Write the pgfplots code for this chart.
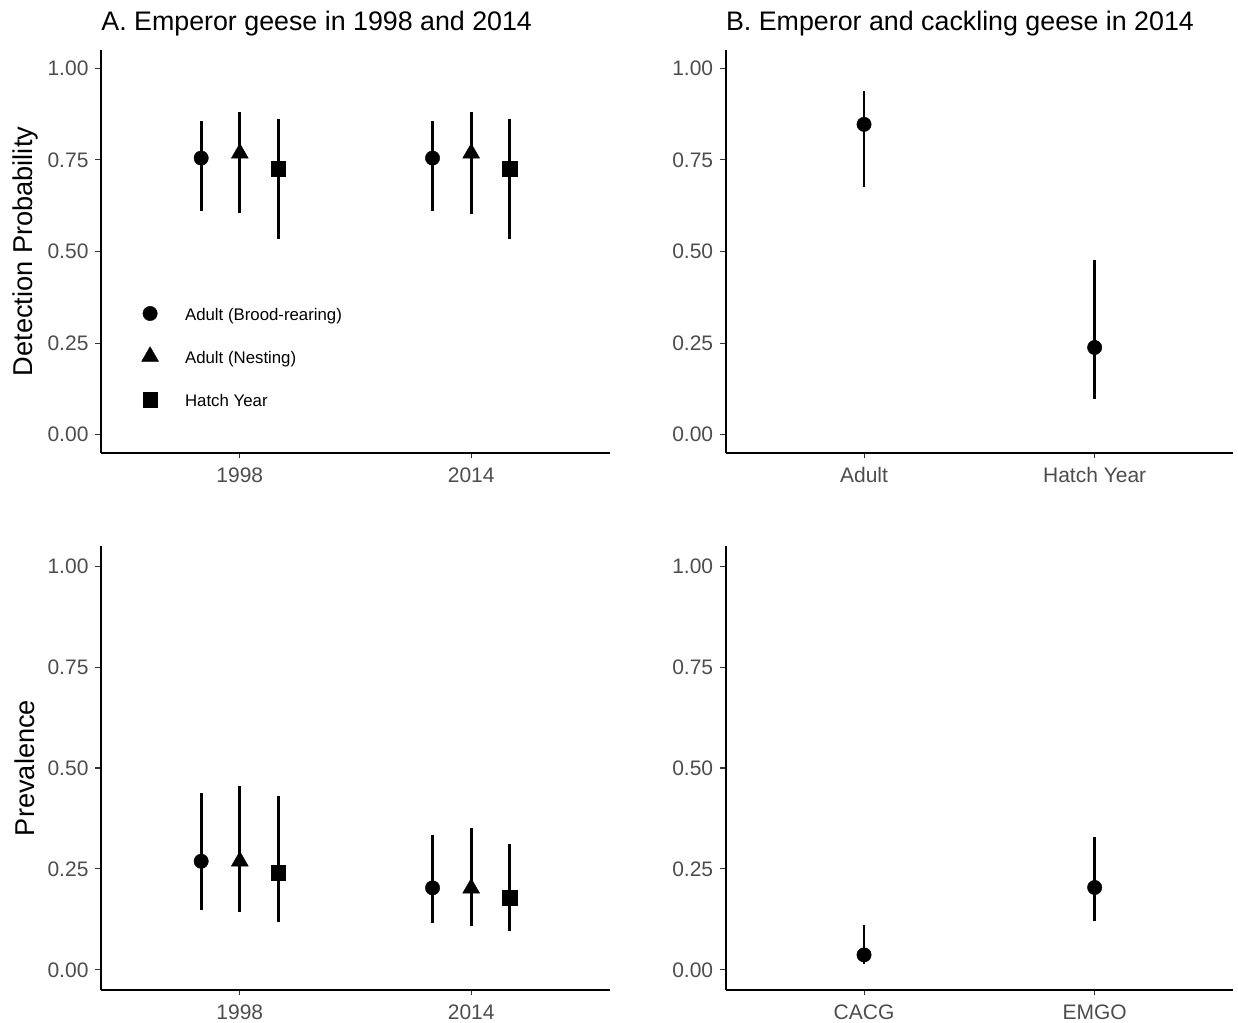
\documentclass[border=0pt]{standalone}
\usepackage{fontspec}
\setmainfont{Liberation Sans}
\usepackage{pgfplots}
\usepackage{pgfplotstable}
\pgfplotsset{compat=1.18}
\definecolor{tickgray}{HTML}{4D4D4D}
\definecolor{tickmarkgray}{HTML}{333333}

% Panel A, detection probability
\pgfplotstableread{
x y lo hi
0.833 0.755 0.611 0.856
1.833 0.755 0.611 0.856
}\detBrood
\pgfplotstableread{
x y lo hi
1 0.768 0.605 0.881
2 0.768 0.603 0.881
}\detNest
\pgfplotstableread{
x y lo hi
1.167 0.726 0.535 0.861
2.167 0.726 0.533 0.861
}\detHatch
% Panel B, detection probability
\pgfplotstableread{
x y lo hi
1 0.847 0.677 0.9375
2 0.238 0.098 0.476
}\detB
% Panel A, prevalence
\pgfplotstableread{
x y lo hi
0.833 0.269 0.148 0.438
1.833 0.203 0.115 0.333
}\prevBrood
\pgfplotstableread{
x y lo hi
1 0.269 0.142 0.456
2 0.202 0.108 0.352
}\prevNest
\pgfplotstableread{
x y lo hi
1.167 0.241 0.119 0.431
2.167 0.179 0.097 0.312
}\prevHatch
% Panel B, prevalence
\pgfplotstableread{
x y lo hi
1 0.037 0.014 0.111
2 0.204 0.122 0.328
}\prevB

\pgfplotsset{
  ggbase/.style={
    scale only axis,
    axis lines*=left,
    axis line style={line width=1.1pt, black},
    tick align=outside,
    major tick length=2.75pt,
    tick style={tickmarkgray, line width=0.55pt},
    xmin=0.4, xmax=2.6, ymin=-0.05, ymax=1.05,
    xtick={1,2}, ytick={0,0.25,0.5,0.75,1},
    yticklabels={0.00,0.25,0.50,0.75,1.00},
    /pgf/number format/assume math mode=true,
    ticklabel style={font=\fontsize{10.5pt}{12pt}\selectfont, text=tickgray},
    xticklabel style={yshift=-1pt},
    title style={at={(0,1)}, anchor=base west, yshift=3.5pt, font=\fontsize{13.4pt}{16pt}\selectfont, inner sep=0pt},
    every axis y label/.style={at={(axis description cs:-0.149,0.5)}, rotate=90, anchor=center, font=\fontsize{13.6pt}{16pt}\selectfont},
  },
  pt/.style={only marks, black, mark options={fill=black, draw=black, line width=0.2pt},
    error bars/y dir=both, error bars/y explicit, error bars/error mark=none,
    error bars/error bar style={line width=1.4pt, black}},
  brood/.style={pt, mark=*, mark size=3.6pt},
  nest/.style={pt, mark=triangle*, mark size=4.9pt},
  hatch/.style={pt, mark=square*, mark size=3.6pt},
}

\begin{document}
\begin{tikzpicture}
\path[use as bounding box] (0,0) rectangle (619pt,511.5pt);

% Top left
\begin{axis}[ggbase,
  at={(50.5pt,285pt)}, anchor=south west, width=254.5pt, height=201.5pt,
  xticklabels={1998,2014},
  title={A. Emperor geese in 1998 and 2014},
  ylabel={Detection Probability},
  legend cell align=left,
  legend image code/.code={\path[draw=none,fill=none] (0pt,-5pt) rectangle (10pt,5pt); \draw[#1] plot coordinates {(5pt,0pt)};},
  legend style={draw=none, fill=none, inner sep=0pt, outer sep=0pt,
    at={(axis cs:0.569,0.358)}, anchor=north west, row sep=11.5pt,
    font=\fontsize{8.4pt}{10pt}\selectfont,
    nodes={inner sep=0pt, text height=7.5pt, text depth=0.2pt},
    /tikz/every odd column/.style={column sep=12.5pt}},
]
\addplot[brood] table[x=x, y=y, y error plus expr=\thisrow{hi}-\thisrow{y}, y error minus expr=\thisrow{y}-\thisrow{lo}] {\detBrood};
\addlegendentry{Adult (Brood-rearing)}
\addplot[nest] table[x=x, y=y, y error plus expr=\thisrow{hi}-\thisrow{y}, y error minus expr=\thisrow{y}-\thisrow{lo}] {\detNest};
\addlegendentry{Adult (Nesting)}
\addplot[hatch] table[x=x, y=y, y error plus expr=\thisrow{hi}-\thisrow{y}, y error minus expr=\thisrow{y}-\thisrow{lo}] {\detHatch};
\addlegendentry{Hatch Year}
\end{axis}

% Top right
\begin{axis}[ggbase,
  at={(362.85pt,285pt)}, anchor=south west, width=253.65pt, height=201.5pt,
  xticklabels={Adult,Hatch Year},
  title={B. Emperor and cackling geese in 2014},
]
\addplot[brood] table[x=x, y=y, y error plus expr=\thisrow{hi}-\thisrow{y}, y error minus expr=\thisrow{y}-\thisrow{lo}] {\detB};
\end{axis}

% Bottom left
\begin{axis}[ggbase,
  at={(50.5pt,16.5pt)}, anchor=south west, width=254.5pt, height=222pt,
  xticklabels={1998,2014},
  ylabel={Prevalence},
]
\addplot[brood] table[x=x, y=y, y error plus expr=\thisrow{hi}-\thisrow{y}, y error minus expr=\thisrow{y}-\thisrow{lo}] {\prevBrood};
\addplot[nest] table[x=x, y=y, y error plus expr=\thisrow{hi}-\thisrow{y}, y error minus expr=\thisrow{y}-\thisrow{lo}] {\prevNest};
\addplot[hatch] table[x=x, y=y, y error plus expr=\thisrow{hi}-\thisrow{y}, y error minus expr=\thisrow{y}-\thisrow{lo}] {\prevHatch};
\end{axis}

% Bottom right
\begin{axis}[ggbase,
  at={(362.85pt,16.5pt)}, anchor=south west, width=253.65pt, height=222pt,
  xticklabels={CACG,EMGO},
]
\addplot[brood] table[x=x, y=y, y error plus expr=\thisrow{hi}-\thisrow{y}, y error minus expr=\thisrow{y}-\thisrow{lo}] {\prevB};
\end{axis}
\end{tikzpicture}
\end{document}
